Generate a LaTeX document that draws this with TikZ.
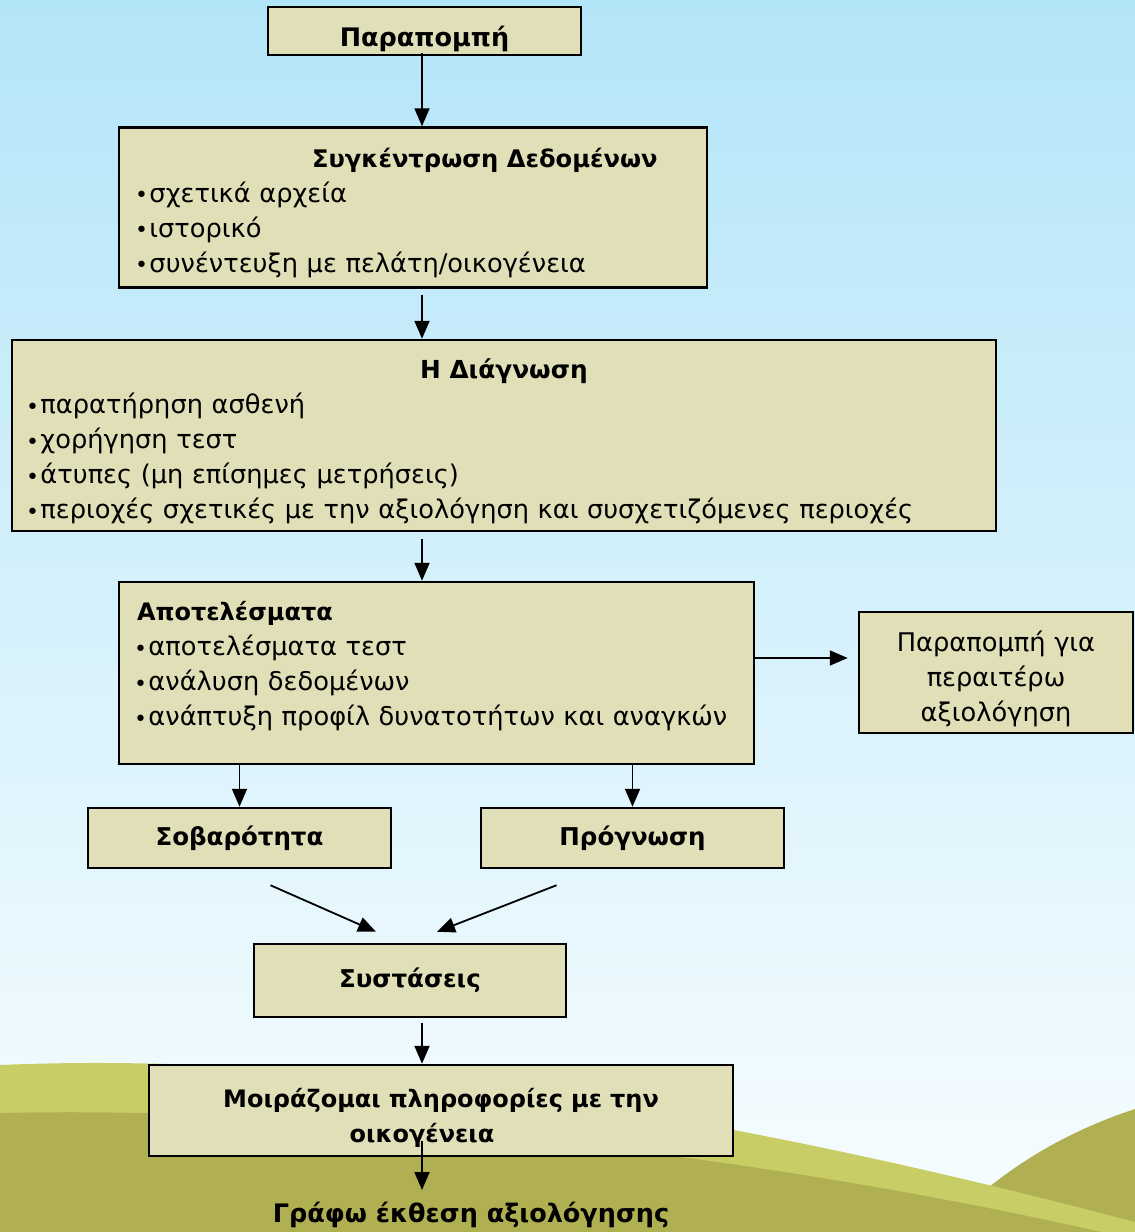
\documentclass[tikz,border=0pt]{standalone}
\usepackage{fontspec}
\setmainfont{DejaVu Sans}
\usetikzlibrary{arrows.meta}
\definecolor{boxfill}{HTML}{E0DFB8}
\definecolor{skytop}{HTML}{B3E5F8}
\definecolor{skybot}{HTML}{F8FDFF}
\definecolor{hilllight}{HTML}{C8CD65}
\definecolor{hilldark}{HTML}{B0AF52}
\newcommand\bl{\raisebox{-0.5pt}{\fontsize{22}{22}\selectfont •}\kern1.5pt}
\begin{document}
\begin{tikzpicture}[x=1pt,y=-1pt,
  box/.style={draw=black, line width=2.5pt, fill=boxfill, rectangle, inner sep=0pt,
              font=\fontsize{25.7}{35}\selectfont},
  arr/.style={line width=1.8pt, -{Triangle[length=18pt,width=15pt]}},
  bold/.style={font=\fontsize{24.5}{35}\selectfont\bfseries},
  bigbold/.style={font=\fontsize{25.5}{35}\selectfont\bfseries}
]
\useasboundingbox (0,0) rectangle (1135,1232);
% sky
\shade[top color=skytop, bottom color=skybot] (0,0) rectangle (1135,1232);
% hills
\fill[hilldark] (940,1232) .. controls (990,1180) and (1050,1137) .. (1135,1109) -- (1135,1232) -- cycle;
\fill[hilllight] (0,1065) .. controls (350,1050) and (750,1120) .. (1135,1222) -- (1135,1232) -- (0,1232) -- cycle;
\fill[hilldark] (0,1113) .. controls (350,1105) and (800,1160) .. (1135,1240) -- (0,1240) -- cycle;

\coordinate (spine) at (422,0);

% boxes
\node[box, bigbold, minimum width=313pt, minimum height=48pt, text height=36pt] (ref) at (424.5,31) {Παραπομπή};

\node[box, minimum width=588pt, minimum height=160pt, text width=556pt, align=left, inner xsep=14pt, text height=30pt]
  (data) at (413,207.5)
  {\hspace*{177pt}{\fontsize{24.2}{35}\selectfont\bfseries Συγκέντρωση Δεδομένων}\\
   \bl σχετικά αρχεία\\
   \bl ιστορικό\\
   \bl συνέντευξη με πελάτη/οικογένεια};

\node[box, minimum width=984pt, minimum height=191pt, text width=956pt, align=left, inner xsep=14pt, text height=32pt]
  (diag) at (504,435.5)
  {\makebox[956pt]{\fontsize{24.8}{35}\selectfont\bfseries Η Διάγνωση}\\
   \bl παρατήρηση ασθενή\\
   \bl χορήγηση τεστ\\
   \bl άτυπες (μη επίσημες μετρήσεις)\\
   \bl περιοχές σχετικές με την αξιολόγηση και συσχετιζόμενες περιοχές};

\node[box, minimum width=635pt, minimum height=182pt, text width=605pt, align=left, inner xsep=15pt, text height=6pt]
  (res) at (436.5,673)
  {\hspace*{3pt}{\fontsize{24}{35}\selectfont\bfseries Αποτελέσματα}\\
   \bl αποτελέσματα τεστ\\
   \bl ανάλυση δεδομένων\\
   \bl ανάπτυξη προφίλ δυνατοτήτων και αναγκών\\[10pt]};

\node[box, minimum width=274pt, minimum height=121pt, text width=260pt, inner xsep=7pt, align=center, text height=34pt]
  (more) at (996,672.5)
  {Παραπομπή για\\περαιτέρω\\αξιολόγηση};

\node[box, bold, minimum width=303pt, minimum height=60pt] (sev) at (239.5,838) {Σοβαρότητα};
\node[box, bold, minimum width=303pt, minimum height=60pt] (prog) at (632.5,838) {Πρόγνωση};

\node[box, bold, minimum width=312pt, minimum height=73pt] (rec) at (410,980.5) {Συστάσεις};

\node[box, font=\fontsize{24}{35}\selectfont\bfseries, minimum width=584pt, minimum height=91pt, text width=570pt, inner xsep=7pt, align=center, text height=33pt]
  (share) at (441,1110.5)
  {Μοιράζομαι πληροφορίες με την\\ \hspace*{-38pt}οικογένεια};

\node[bigbold, inner sep=0pt] (final) at (471,1215) {Γράφω έκθεση αξιολόγησης};
\coordinate (finaltip) at (422,1190);

% connectors
\draw[arr] ([shift={(0,-3)}]spine |- ref.south) -- (spine |- data.north);
\draw[arr, shorten <=6pt] (spine |- data.south) -- (spine |- diag.north);
\draw[arr, shorten <=7pt] (spine |- diag.south) -- (spine |- res.north);
\draw[arr, shorten >=10pt] (res.east |- 0,658) -- (more.west |- 0,658);
\draw[arr] (sev.north |- res.south) -- (sev.north);
\draw[arr] (prog.north |- res.south) -- (prog.north);
\draw[arr] ([shift={(31,16)}]sev.south) -- ([shift={(-34,-11)}]rec.north);
\draw[arr] ([shift={(-76,16)}]prog.south) -- ([shift={(27,-11)}]rec.north);
\draw[arr, shorten <=5pt] (spine |- rec.south) -- (spine |- share.north);
\draw[arr] ([shift={(0,-16)}]spine |- share.south) -- (finaltip);
\end{tikzpicture}
\end{document}
